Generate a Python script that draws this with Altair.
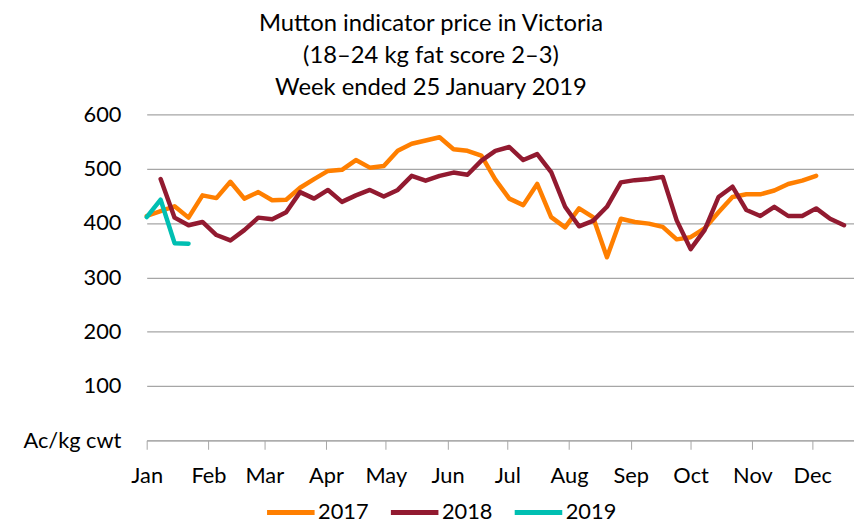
import altair as alt
import pandas as pd

# ---- data (weekly prices, c/kg cwt) ----
years = ["2017", "2018", "2019"]
colors = ["#FF7F00", "#921A30", "#00BFB2"]

# week index of first value for each series
start_week = {"2017": 0, "2018": 1, "2019": 0}

price_2017 = [413, 422, 431, 410, 451, 446, 476, 445, 457, 442,
              443, 465, 481, 496, 498, 516, 502, 505, 533, 546,
              552, 558, 536, 533, 524, 480, 445, 433, 472, 411,
              392, 427, 411, 337, 408, 402, 399, 393, 370, 374,
              390, 420, 448, 453, 453, 460, 472, 478, 487]
price_2018 = [481, 410, 396, 402, 378, 368, 387, 410, 407, 420,
              457, 445, 461, 439, 451, 461, 449, 461, 487, 478,
              487, 493, 489, 515, 533, 540, 516, 527, 494, 430,
              394, 404, 430, 475, 479, 481, 485, 405, 352, 387,
              448, 467, 424, 413, 430, 413, 413, 427, 408, 396]
price_2019 = [411, 443, 363, 362]

month_labels = ["Jan", "Feb", "Mar", "Apr", "May", "Jun",
                "Jul", "Aug", "Sep", "Oct", "Nov", "Dec"]
month_start_day = [0, 31, 59, 90, 120, 151, 181, 212, 243, 273, 304, 334]
y_ticks = [0, 100, 200, 300, 400, 500, 600]
unit_label = "Ac/kg cwt"
title_lines = ["Mutton indicator price in Victoria",
               "(18\u201324 kg fat score 2\u20133)",
               "Week ended 25 January 2019"]

series = {"2017": price_2017, "2018": price_2018, "2019": price_2019}
rows = []
for yr in years:
    for i, v in enumerate(series[yr]):
        wk = start_week[yr] + i
        rows.append({"year": yr, "week": wk, "day": wk * 7, "price": v})
df = pd.DataFrame(rows)

FONT = "Lato"
FS = 22

month_expr = "[" + ",".join("'%s'" % m for m in month_labels) + "][indexof([" + \
    ",".join(str(d) for d in month_start_day) + "], datum.value)]"
y_expr = "datum.value == 0 ? '%s' : datum.label" % unit_label

chart = alt.Chart(df).mark_line(
    strokeWidth=4.5, strokeCap="round", strokeJoin="round"
).encode(
    x=alt.X("day:Q",
            scale=alt.Scale(domain=[0, 355], nice=False, zero=False),
            axis=alt.Axis(values=month_start_day, labelExpr=month_expr,
                          title=None, grid=False, domainColor="#a6a6a6",
                          tickColor="#a6a6a6", tickSize=9, labelPadding=17,
                          labelFontSize=FS, labelFont=FONT, labelColor="black",
                          labelFlush=False, labelOverlap=False)),
    y=alt.Y("price:Q",
            scale=alt.Scale(domain=[0, 600], nice=False),
            axis=alt.Axis(values=y_ticks, labelExpr=y_expr, title=None,
                          domain=False, ticks=False, labelPadding=26,
                          gridColor="#a6a6a6", gridWidth=1.2,
                          labelFontSize=FS, labelFont=FONT, labelColor="black")),
    color=alt.Color("year:N",
                    scale=alt.Scale(domain=years, range=colors),
                    legend=alt.Legend(title=None, orient="none",
                                      direction="horizontal",
                                      legendX=131, legendY=387,
                                      symbolType="M-2,0H2", symbolSize=576,
                                      symbolStrokeWidth=5, labelOffset=13,
                                      columnPadding=11, labelFontSize=FS,
                                      labelFont=FONT, labelColor="black")),
    detail="year:N",
).properties(
    width=714,
    height=329,
    autosize=alt.AutoSizeParams(type="none"),
    padding={"left": 140, "top": 105, "right": 0, "bottom": 81},
    title=alt.TitleParams(text=title_lines, font=FONT, fontSize=24,
                          fontWeight="normal", color="black",
                          anchor="middle", dx=-70, lineHeight=32, offset=4),
).configure_view(stroke=None)

chart.save("out.html", embed_options={"renderer": "svg", "actions": False})
